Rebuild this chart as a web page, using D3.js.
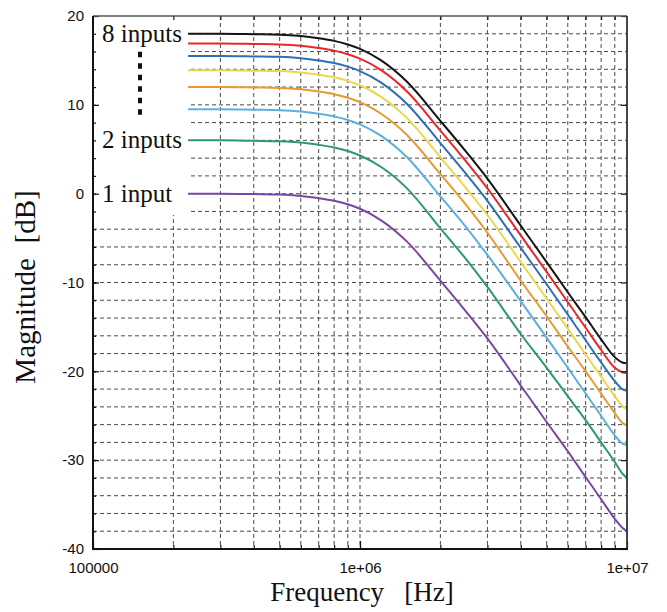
<!DOCTYPE html>
<html><head><meta charset="utf-8">
<script src="https://cdn.jsdelivr.net/npm/d3@7"></script>
<style>html,body{margin:0;padding:0;background:#fff;} svg{display:block}</style>
</head><body>
<svg id="chart" width="667" height="612"></svg>
<script>
// ---- data ----
const freqs = [2.27e5, 3e5, 4e5, 5e5, 6e5, 7e5, 8e5, 9e5, 1e6, 1.2e6, 1.5e6, 2e6, 2.5e6, 3e6, 4e6, 5e6, 6e6, 7e6, 8e6, 9e6, 9.6e6, 1e7];
const in1 = [0.0, 0.0, -0.05, -0.1, -0.25, -0.5, -0.8, -1.2, -1.7, -3.0, -5.4, -9.8, -13.3, -16.3, -21.6, -25.7, -29.0, -31.9, -34.4, -36.6, -37.6, -38.0];
const in2 = [6.0, 6.0, 5.95, 5.9, 5.75, 5.5, 5.2, 4.8, 4.3, 3.0, 0.6, -3.9, -7.4, -10.5, -15.8, -19.6, -22.8, -25.5, -28.0, -30.2, -31.5, -32.0];
const in3 = [9.5, 9.5, 9.45, 9.4, 9.25, 9.0, 8.7, 8.3, 7.8, 6.5, 4.1, -0.3, -3.8, -6.9, -12.1, -16.2, -19.6, -22.5, -25.0, -27.2, -28.1, -28.3];
const in4 = [12.0, 12.0, 11.95, 11.9, 11.75, 11.5, 11.2, 10.8, 10.3, 9.0, 6.6, 2.2, -1.3, -4.4, -9.8, -13.8, -17.2, -20.0, -22.5, -24.7, -25.8, -26.1];
const in5 = [13.9, 13.9, 13.85, 13.8, 13.65, 13.4, 13.1, 12.7, 12.2, 10.9, 8.5, 4.1, 0.6, -2.4, -7.7, -11.8, -15.2, -18.1, -20.6, -22.8, -23.9, -24.3];
const in6 = [15.5, 15.5, 15.45, 15.4, 15.25, 15.0, 14.7, 14.3, 13.8, 12.5, 10.1, 5.7, 2.2, -0.8, -6.1, -10.2, -13.6, -16.5, -19.0, -21.1, -22.0, -22.2];
const in7 = [16.9, 16.9, 16.85, 16.8, 16.65, 16.4, 16.1, 15.7, 15.2, 13.9, 11.5, 7.1, 3.6, 0.6, -4.7, -8.8, -12.2, -15.1, -17.6, -19.6, -20.1, -20.2];
const in8 = [18.0, 18.0, 17.95, 17.9, 17.75, 17.5, 17.2, 16.8, 16.3, 15.0, 12.6, 8.2, 4.7, 1.7, -3.6, -7.7, -11.1, -13.9, -16.4, -18.4, -19.0, -19.1];
const seriesNames = ["1 input", "2 inputs", "3 inputs", "4 inputs", "5 inputs", "6 inputs", "7 inputs", "8 inputs"];
const seriesValues = [in1, in2, in3, in4, in5, in6, in7, in8];
const labeledSeries = ["8 inputs", "2 inputs", "1 input"];
const xTickValues = [1e5, 1e6, 1e7];
const xTickLabels = ["100000", "1e+06", "1e+07"];
const xGridValues = [2e5, 3e5, 4e5, 5e5, 6e5, 7e5, 8e5, 9e5, 1e6, 2e6, 3e6, 4e6, 5e6, 6e6, 7e6, 8e6, 9e6];
const yTickValues = [-40, -30, -20, -10, 0, 10, 20];
const yTickLabels = ["-40", "-30", "-20", "-10", "0", "10", "20"];
const yGridValues = [-38, -36, -34, -32, -30, -28, -26, -24, -22, -20, -18, -16, -14, -12, -10, -8, -6, -4, -2, 0, 2, 4, 6, 8, 10, 12, 14, 16, 18];

// ---- styles ----
const colors = {"1 input":"#7b45a6","2 inputs":"#2b9a6c","3 inputs":"#5cb0e0","4 inputs":"#e59b2f","5 inputs":"#ebd84a","6 inputs":"#2d70b2","7 inputs":"#e5292b","8 inputs":"#151515"};
const L = 93, R = 627, T = 16, B = 549;

const svg = d3.select("#chart");
const x = d3.scaleLog().domain([1e5, 1e7]).range([L, R]);
const y = d3.scaleLinear().domain([-40, 20]).range([B, T]);

// grid
const grid = svg.append("g").attr("stroke", "#4a4a4a").attr("stroke-width", 1).attr("stroke-dasharray", "4,3");
grid.selectAll("line.h").data(yGridValues).join("line").attr("class", "h")
  .attr("x1", L).attr("x2", R).attr("y1", d => y(d)).attr("y2", d => y(d));
grid.selectAll("line.v").data(xGridValues).join("line").attr("class", "v")
  .attr("x1", d => x(d)).attr("x2", d => x(d)).attr("y1", T).attr("y2", B);

// white area behind the labels
svg.append("rect").attr("x", L + 1).attr("y", T + 1)
  .attr("width", x(freqs[0]) - L - 1).attr("height", y(-2.4) - T - 1).attr("fill", "#fff");

// curves
const line = d3.line().x(d => x(d[0])).y(d => y(d[1])).curve(d3.curveMonotoneX);
svg.append("g").selectAll("path").data(seriesNames).join("path")
  .attr("fill", "none").attr("stroke", n => colors[n]).attr("stroke-width", 2)
  .attr("stroke-linejoin", "round")
  .attr("d", n => line(freqs.map((f, i) => [f, seriesValues[seriesNames.indexOf(n)][i]])));

// axes
const fontSans = "'Liberation Sans', Arial, sans-serif";
const yAxis = d3.axisLeft(y).tickValues(yTickValues).tickFormat((d, i) => yTickLabels[i])
  .tickSizeInner(-6).tickSizeOuter(0).tickPadding(9);
const gy = svg.append("g").attr("transform", `translate(${L},0)`).call(yAxis);
const yMinor = d3.axisLeft(y).tickValues(yGridValues).tickFormat("").tickSizeInner(-3).tickSizeOuter(0);
svg.append("g").attr("transform", `translate(${L},0)`).call(yMinor).select(".domain").remove();
const yRight = d3.axisRight(y).tickValues(yTickValues).tickFormat("").tickSizeInner(-6).tickSizeOuter(0);
svg.append("g").attr("transform", `translate(${R},0)`).call(yRight).select(".domain").remove();

const xAxis = d3.axisBottom(x).tickValues(xTickValues).tickFormat((d, i) => xTickLabels[i])
  .tickSizeInner(-8).tickSizeOuter(0).tickPadding(13);
const gx = svg.append("g").attr("transform", `translate(0,${B})`).call(xAxis);
const xMinor = d3.axisBottom(x).tickValues(xGridValues).tickFormat("").tickSizeInner(-4).tickSizeOuter(0);
svg.append("g").attr("transform", `translate(0,${B})`).call(xMinor).select(".domain").remove();
const xTop = d3.axisTop(x).tickValues(xGridValues).tickFormat("").tickSizeInner(-4).tickSizeOuter(0);
svg.append("g").attr("transform", `translate(0,${T})`).call(xTop).select(".domain").remove();

[gx, gy].forEach(g => {
  g.select(".domain").remove();
  g.selectAll("text").attr("font-family", fontSans).attr("font-size", 15).attr("fill", "#111");
});
svg.selectAll(".tick line").attr("stroke", "#111").attr("stroke-width", 1.2);

// frame
svg.append("line").attr("x1", L).attr("x2", R).attr("y1", T).attr("y2", T).attr("stroke", "#555").attr("stroke-width", 1.5);
svg.append("line").attr("x1", R).attr("x2", R).attr("y1", T).attr("y2", B).attr("stroke", "#333").attr("stroke-width", 1.8);
svg.append("line").attr("x1", L).attr("x2", L).attr("y1", T).attr("y2", B + 1).attr("stroke", "#111").attr("stroke-width", 2);
svg.append("line").attr("x1", L - 1).attr("x2", R + 1).attr("y1", B).attr("y2", B).attr("stroke", "#111").attr("stroke-width", 2);

// series labels
const fontSerif = "'Liberation Serif', 'Times New Roman', serif";
svg.append("g").selectAll("text").data(labeledSeries).join("text")
  .attr("x", 102)
  .attr("y", n => y(seriesValues[seriesNames.indexOf(n)][0]) + 8)
  .attr("font-family", fontSerif).attr("font-size", 25).attr("fill", "#111")
  .text(n => n);

// vertical dotted ellipsis between labels
svg.append("line").attr("x1", 140).attr("x2", 140)
  .attr("y1", y(in8[0]) + 18).attr("y2", y(in3[0]) + 10)
  .attr("stroke", "#111").attr("stroke-width", 4).attr("stroke-dasharray", "5.5,6");

// axis titles
svg.append("text").attr("x", 362).attr("y", 601).attr("text-anchor", "middle")
  .attr("font-family", fontSerif).attr("font-size", 27).attr("fill", "#111")
  .text("Frequency\u00a0\u00a0\u00a0[Hz]");
svg.append("text").attr("transform", "translate(35,287) rotate(-90)").attr("text-anchor", "middle")
  .attr("font-family", fontSerif).attr("font-size", 29).attr("fill", "#111")
  .text("Magnitude\u00a0\u00a0[dB]");
</script>
</body></html>
